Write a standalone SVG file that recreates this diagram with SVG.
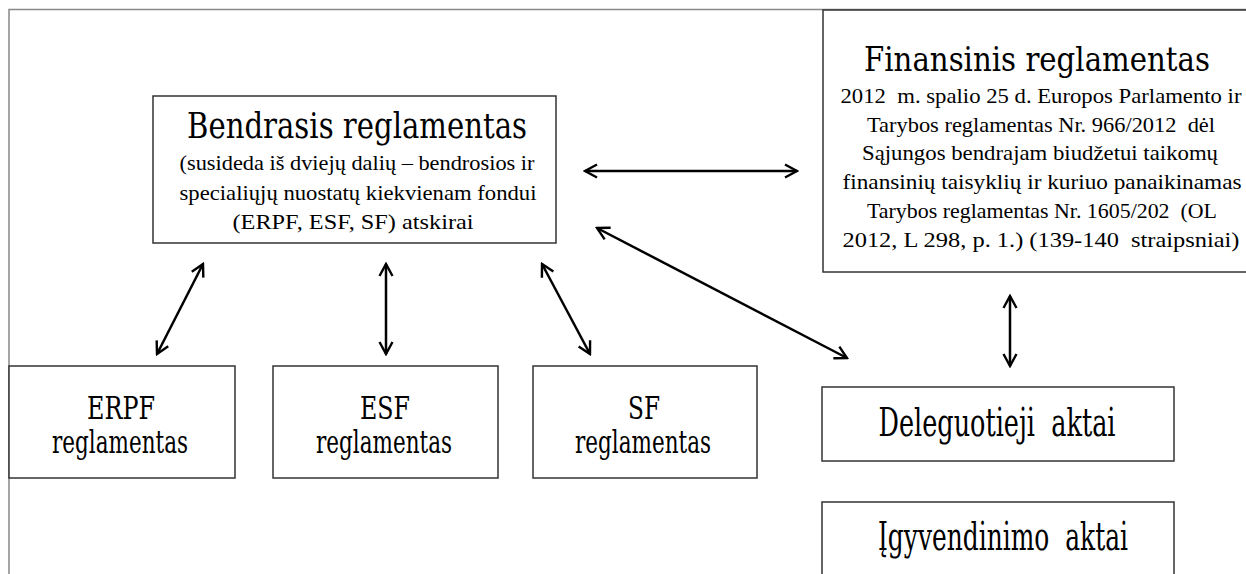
<svg xmlns="http://www.w3.org/2000/svg" width="1246" height="574" viewBox="0 0 1246 574">
<defs>
<marker id="ah" viewBox="0 0 16 16" refX="14" refY="8" markerWidth="16" markerHeight="16" markerUnits="userSpaceOnUse" orient="auto-start-reverse">
<path d="M2,1.5 L14,8 L2,14.5" fill="none" stroke="#000" stroke-width="2.4"/>
</marker>
</defs>
<style>
.box{fill:#fff;stroke:#333;stroke-width:1.5}
.frame{fill:none;stroke:#888;stroke-width:1.5}
text{fill:#000;text-anchor:middle}
.s{font-family:'Liberation Serif','Times New Roman',serif;font-size:21px}
.b{font-family:'DejaVu Serif',serif}
.conn{stroke:#000;stroke-width:2.5;fill:none;marker-start:url(#ah);marker-end:url(#ah)}
</style>
<rect width="1246" height="574" fill="#fff"/>
<path class="frame" d="M9,580 L9,9.5 L1250,9.5"/>
<g id="bendrasis">
<rect class="box" x="153" y="96" width="403" height="147"/>
<text class="b" transform="translate(357,138) scale(1,1.15)" font-size="31" textLength="340" lengthAdjust="spacingAndGlyphs">Bendrasis reglamentas</text>
<text class="s" x="357" y="170" textLength="355" lengthAdjust="spacingAndGlyphs">(susideda iš dviejų dalių – bendrosios ir</text>
<text class="s" x="358" y="200" textLength="357" lengthAdjust="spacingAndGlyphs">specialiųjų nuostatų kiekvienam fondui</text>
<text class="s" x="353" y="229" textLength="241" lengthAdjust="spacingAndGlyphs">(ERPF, ESF, SF) atskirai</text>
</g>
<g id="finansinis">
<rect class="box" x="823" y="10" width="440" height="262"/>
<text class="b" transform="translate(1037,71) scale(1,1.07)" font-size="31" textLength="346" lengthAdjust="spacingAndGlyphs">Finansinis reglamentas</text>
<text class="s" x="1041" y="103" textLength="401" lengthAdjust="spacingAndGlyphs" xml:space="preserve">2012  m. spalio 25 d. Europos Parlamento ir</text>
<text class="s" x="1041" y="132" textLength="348" lengthAdjust="spacingAndGlyphs" xml:space="preserve">Tarybos reglamentas Nr. 966/2012  dėl</text>
<text class="s" x="1040" y="160" textLength="356" lengthAdjust="spacingAndGlyphs">Sąjungos bendrajam biudžetui taikomų</text>
<text class="s" x="1042" y="189" textLength="399" lengthAdjust="spacingAndGlyphs">finansinių taisyklių ir kuriuo panaikinamas</text>
<text class="s" x="1042" y="218" textLength="350" lengthAdjust="spacingAndGlyphs" xml:space="preserve">Tarybos reglamentas Nr. 1605/202  (OL</text>
<text class="s" x="1041" y="247" textLength="397" lengthAdjust="spacingAndGlyphs" xml:space="preserve">2012, L 298, p. 1.) (139-140  straipsniai)</text>
</g>
<g id="erpf">
<rect class="box" x="9" y="366" width="226" height="112"/>
<text class="b" transform="translate(121,419) scale(1,1.45)" font-size="22"><tspan x="0" y="0" textLength="68" lengthAdjust="spacingAndGlyphs">ERPF</tspan><tspan x="-1" y="23.45" textLength="136" lengthAdjust="spacingAndGlyphs">reglamentas</tspan></text>
</g>
<g id="esf">
<rect class="box" x="273" y="366" width="225" height="112"/>
<text class="b" transform="translate(385,419) scale(1,1.45)" font-size="22"><tspan x="0" y="0" textLength="50" lengthAdjust="spacingAndGlyphs">ESF</tspan><tspan x="-1" y="23.45" textLength="136" lengthAdjust="spacingAndGlyphs">reglamentas</tspan></text>
</g>
<g id="sf">
<rect class="box" x="533" y="366" width="224" height="112"/>
<text class="b" transform="translate(644,419) scale(1,1.45)" font-size="22"><tspan x="0" y="0" textLength="32" lengthAdjust="spacingAndGlyphs">SF</tspan><tspan x="-1" y="23.45" textLength="136" lengthAdjust="spacingAndGlyphs">reglamentas</tspan></text>
</g>
<g id="deleguotieji">
<rect class="box" x="822" y="387" width="352" height="74"/>
<text class="b" transform="translate(997,436) scale(1,1.5)" font-size="26" textLength="237" lengthAdjust="spacingAndGlyphs" xml:space="preserve">Deleguotieji  aktai</text>
</g>
<g id="igyvendinimo">
<rect class="box" x="822" y="502" width="352" height="80"/>
<text class="b" transform="translate(1003,550) scale(1,1.5)" font-size="26" textLength="250" lengthAdjust="spacingAndGlyphs" xml:space="preserve">Įgyvendinimo  aktai</text>
</g>
<g id="connectors">
<line class="conn" x1="585" y1="171" x2="797" y2="171"/>
<line class="conn" x1="597" y1="228" x2="847" y2="358"/>
<line class="conn" x1="203" y1="264" x2="157" y2="354"/>
<line class="conn" x1="386" y1="264" x2="386" y2="354"/>
<line class="conn" x1="542" y1="264" x2="590" y2="354"/>
<line class="conn" x1="1010" y1="296" x2="1010" y2="366"/>
</g>
</svg>
